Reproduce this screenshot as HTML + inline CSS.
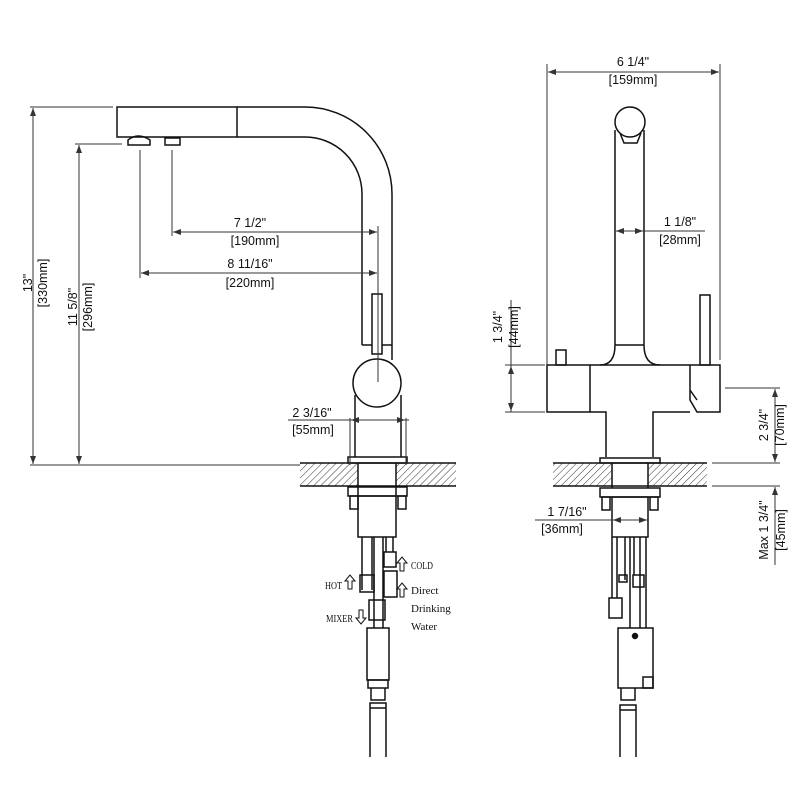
<!DOCTYPE html>
<html><head><meta charset="utf-8"><style>
html,body{margin:0;padding:0;background:#fff;}
svg{display:block;}
.t{font-family:"Liberation Sans",Arial,sans-serif;font-size:12.5px;fill:#111;}
.s{font-family:"Liberation Serif",serif;font-size:11px;fill:#111;}
</style></head><body>
<svg width="800" height="800" viewBox="0 0 800 800" xmlns="http://www.w3.org/2000/svg">
<defs>
<pattern id="h" width="5" height="5" patternUnits="userSpaceOnUse" patternTransform="rotate(45)">
<line x1="0" y1="0" x2="0" y2="5" stroke="#333" stroke-width="1"/>
</pattern>
<marker id="a" markerWidth="8" markerHeight="6" refX="8" refY="3" orient="auto-start-reverse" markerUnits="userSpaceOnUse"><path d="M0,0 L8,3 L0,6 z" fill="#333"/></marker>
</defs>
<g fill="none" stroke="#111" stroke-width="1.5">
<!-- LEFT VIEW -->
<rect x="117" y="107" width="120" height="30"/>
<path d="M237,107 H305 A87,87 0 0 1 392,194 V360"/>
<path d="M237,137 H305 A57,57 0 0 1 362,194 V345"/>
<path d="M128,145 v-5 q10,-8 22,0 v5 z M165,145 v-7 h15 v7 z"/>
<line x1="362" y1="345" x2="392" y2="345"/>
<rect x="372" y="294" width="10" height="60" fill="#fff"/>
<circle cx="377" cy="383" r="24" fill="#fff"/>
<path d="M355,395 V457 M401,395 V457"/>
<rect x="348" y="457" width="59" height="6"/>
<rect x="300" y="463" width="58" height="23" fill="url(#h)" stroke="none"/>
<rect x="396" y="463" width="60" height="23" fill="url(#h)" stroke="none"/>
<line x1="300" y1="463" x2="456" y2="463"/><line x1="300" y1="486" x2="456" y2="486"/>
<path d="M358,463 V496 M396,463 V496"/>
<rect x="348" y="487" width="59" height="9"/>
<rect x="350" y="496" width="8" height="13"/><rect x="398" y="496" width="8" height="13"/>
<rect x="358" y="496" width="38" height="41"/>
<path d="M362,537 V590 M372,537 V590 M374,537 V628 M383,537 V628 M386,537 V552 M393,537 V552"/>
<rect x="384" y="552" width="12" height="15"/>
<rect x="384" y="571" width="13" height="26"/>
<rect x="360" y="575" width="14" height="17"/>
<rect x="369" y="600" width="16" height="20"/>
<rect x="367" y="628" width="22" height="52"/>
<rect x="368" y="680" width="20" height="8"/>
<path d="M371,688 v12 h14 v-12 M371,700 h14 M370,703 h16 v5 h-16 z M370,708 V757 M386,708 V757"/>
<!-- arrows labels -->
<path d="M400,571 v-8 h-3 l5,-6 l5,6 h-3 v8 z" stroke-width="1"/>
<path d="M400,597 v-8 h-3 l5,-6 l5,6 h-3 v8 z" stroke-width="1"/>
<path d="M348,589 v-8 h-3 l5,-6 l5,6 h-3 v8 z" stroke-width="1"/>
<path d="M359,610 v8 h-3 l5,6 l5,-6 h-3 v-8 z" stroke-width="1"/>

<!-- RIGHT VIEW -->
<circle cx="630" cy="122" r="15"/>
<path d="M620,133 l4,10 h13 l4,-10"/>
<path d="M615,130 V345 Q615,365 600,365 M644,130 V345 Q644,365 660,365"/>
<line x1="615" y1="345" x2="644" y2="345"/>
<rect x="547" y="365" width="43" height="47"/>
<path d="M590,365 H690 M590,412 H606 V457 M653,457 V412 H690"/>
<rect x="556" y="350" width="10" height="15"/>
<rect x="700" y="295" width="10" height="70"/>
<path d="M690,365 H720 V412 H697 L690,400 V365 M690,390 l7,10"/>
<rect x="600" y="458" width="60" height="5"/>
<rect x="553" y="463" width="59" height="23" fill="url(#h)" stroke="none"/>
<rect x="648" y="463" width="59" height="23" fill="url(#h)" stroke="none"/>
<line x1="553" y1="463" x2="707" y2="463"/><line x1="553" y1="486" x2="707" y2="486"/>
<path d="M612,463 V488 M648,463 V488"/>
<rect x="600" y="488" width="60" height="9"/>
<rect x="602" y="497" width="8" height="13"/><rect x="650" y="497" width="8" height="13"/>
<rect x="612" y="497" width="36" height="40"/>
<path d="M612,537 V598 M617,537 V598 M625,537 V580 M630,537 V628 M634,537 V575 M640,537 V628 M646,537 V628"/>
<rect x="609" y="598" width="13" height="20"/>
<rect x="619" y="575" width="8" height="7"/>
<rect x="633" y="575" width="11" height="12"/>
<rect x="618" y="628" width="35" height="60"/>
<rect x="643" y="677" width="10" height="11"/>
<circle cx="635" cy="636" r="2.5" fill="#111"/>
<path d="M621,688 v12 h14 v-12 M621,700 h14 M620,705 h16 v5 h-16 z M620,710 V757 M636,710 V757"/>
</g>

<!-- DIMENSIONS -->
<g fill="none" stroke="#333" stroke-width="1">
<line x1="30" y1="107" x2="113" y2="107"/><line x1="30" y1="465" x2="300" y2="465"/>
<line x1="33" y1="108" x2="33" y2="464" marker-start="url(#a)" marker-end="url(#a)"/>
<line x1="75" y1="144" x2="122" y2="144"/>
<line x1="79" y1="145" x2="79" y2="464" marker-start="url(#a)" marker-end="url(#a)"/>
<line x1="172" y1="150" x2="172" y2="236"/><line x1="140" y1="150" x2="140" y2="278"/>
<line x1="378" y1="226" x2="378" y2="382"/>
<line x1="173" y1="232" x2="377" y2="232" marker-start="url(#a)" marker-end="url(#a)"/>
<line x1="141" y1="273" x2="377" y2="273" marker-start="url(#a)" marker-end="url(#a)"/>
<line x1="350" y1="418" x2="350" y2="465"/><line x1="406" y1="418" x2="406" y2="465"/>
<line x1="288" y1="420" x2="409" y2="420"/>
<line x1="351" y1="420" x2="405" y2="420" marker-start="url(#a)" marker-end="url(#a)"/>

<line x1="547" y1="64" x2="547" y2="365"/><line x1="720" y1="64" x2="720" y2="360"/>
<line x1="548" y1="72" x2="719" y2="72" marker-start="url(#a)" marker-end="url(#a)"/>
<line x1="616" y1="231" x2="705" y2="231"/>
<line x1="616" y1="231" x2="643" y2="231" marker-start="url(#a)" marker-end="url(#a)"/>
<line x1="505" y1="365" x2="545" y2="365"/><line x1="505" y1="412" x2="545" y2="412"/>
<line x1="511" y1="300" x2="511" y2="412" />
<line x1="511" y1="366" x2="511" y2="411" marker-start="url(#a)" marker-end="url(#a)"/>
<line x1="725" y1="388" x2="780" y2="388"/>
<line x1="712" y1="463" x2="780" y2="463"/><line x1="712" y1="486" x2="780" y2="486"/>
<line x1="775" y1="389" x2="775" y2="462" marker-start="url(#a)" marker-end="url(#a)"/>
<line x1="775" y1="487" x2="775" y2="565" marker-start="url(#a)"/>
<line x1="535" y1="520" x2="648" y2="520"/>
<line x1="613" y1="520" x2="647" y2="520" marker-start="url(#a)" marker-end="url(#a)"/>
</g>

<g class="t" text-anchor="middle">
<text transform="translate(32,283) rotate(-90)">13"</text>
<text transform="translate(47,283) rotate(-90)">[330mm]</text>
<text transform="translate(77,307) rotate(-90)">11 5/8"</text>
<text transform="translate(92,307) rotate(-90)">[296mm]</text>
<text x="250" y="227">7 1/2"</text><text x="255" y="245">[190mm]</text>
<text x="250" y="268">8 11/16"</text><text x="250" y="287">[220mm]</text>
<text x="312" y="417">2 3/16"</text><text x="313" y="434">[55mm]</text>
<text x="633" y="66">6 1/4"</text><text x="633" y="84">[159mm]</text>
<text x="680" y="226">1 1/8"</text><text x="680" y="244">[28mm]</text>
<text transform="translate(502,327) rotate(-90)">1 3/4"</text>
<text transform="translate(518,327) rotate(-90)">[44mm]</text>
<text transform="translate(768,425) rotate(-90)">2 3/4"</text>
<text transform="translate(784,425) rotate(-90)">[70mm]</text>
<text x="567" y="516">1 7/16"</text><text x="562" y="533">[36mm]</text>
<text transform="translate(768,530) rotate(-90)">Max 1 3/4"</text>
<text transform="translate(785,530) rotate(-90)">[45mm]</text>
</g>
<g class="s">
<text x="411" y="569" textLength="22" lengthAdjust="spacingAndGlyphs">COLD</text>
<text x="411" y="594">Direct</text>
<text x="411" y="612">Drinking</text>
<text x="411" y="630">Water</text>
<text x="325" y="589" textLength="17" lengthAdjust="spacingAndGlyphs">HOT</text>
<text x="326" y="622" textLength="27" lengthAdjust="spacingAndGlyphs">MIXER</text>
</g>
</svg>
</body></html>
